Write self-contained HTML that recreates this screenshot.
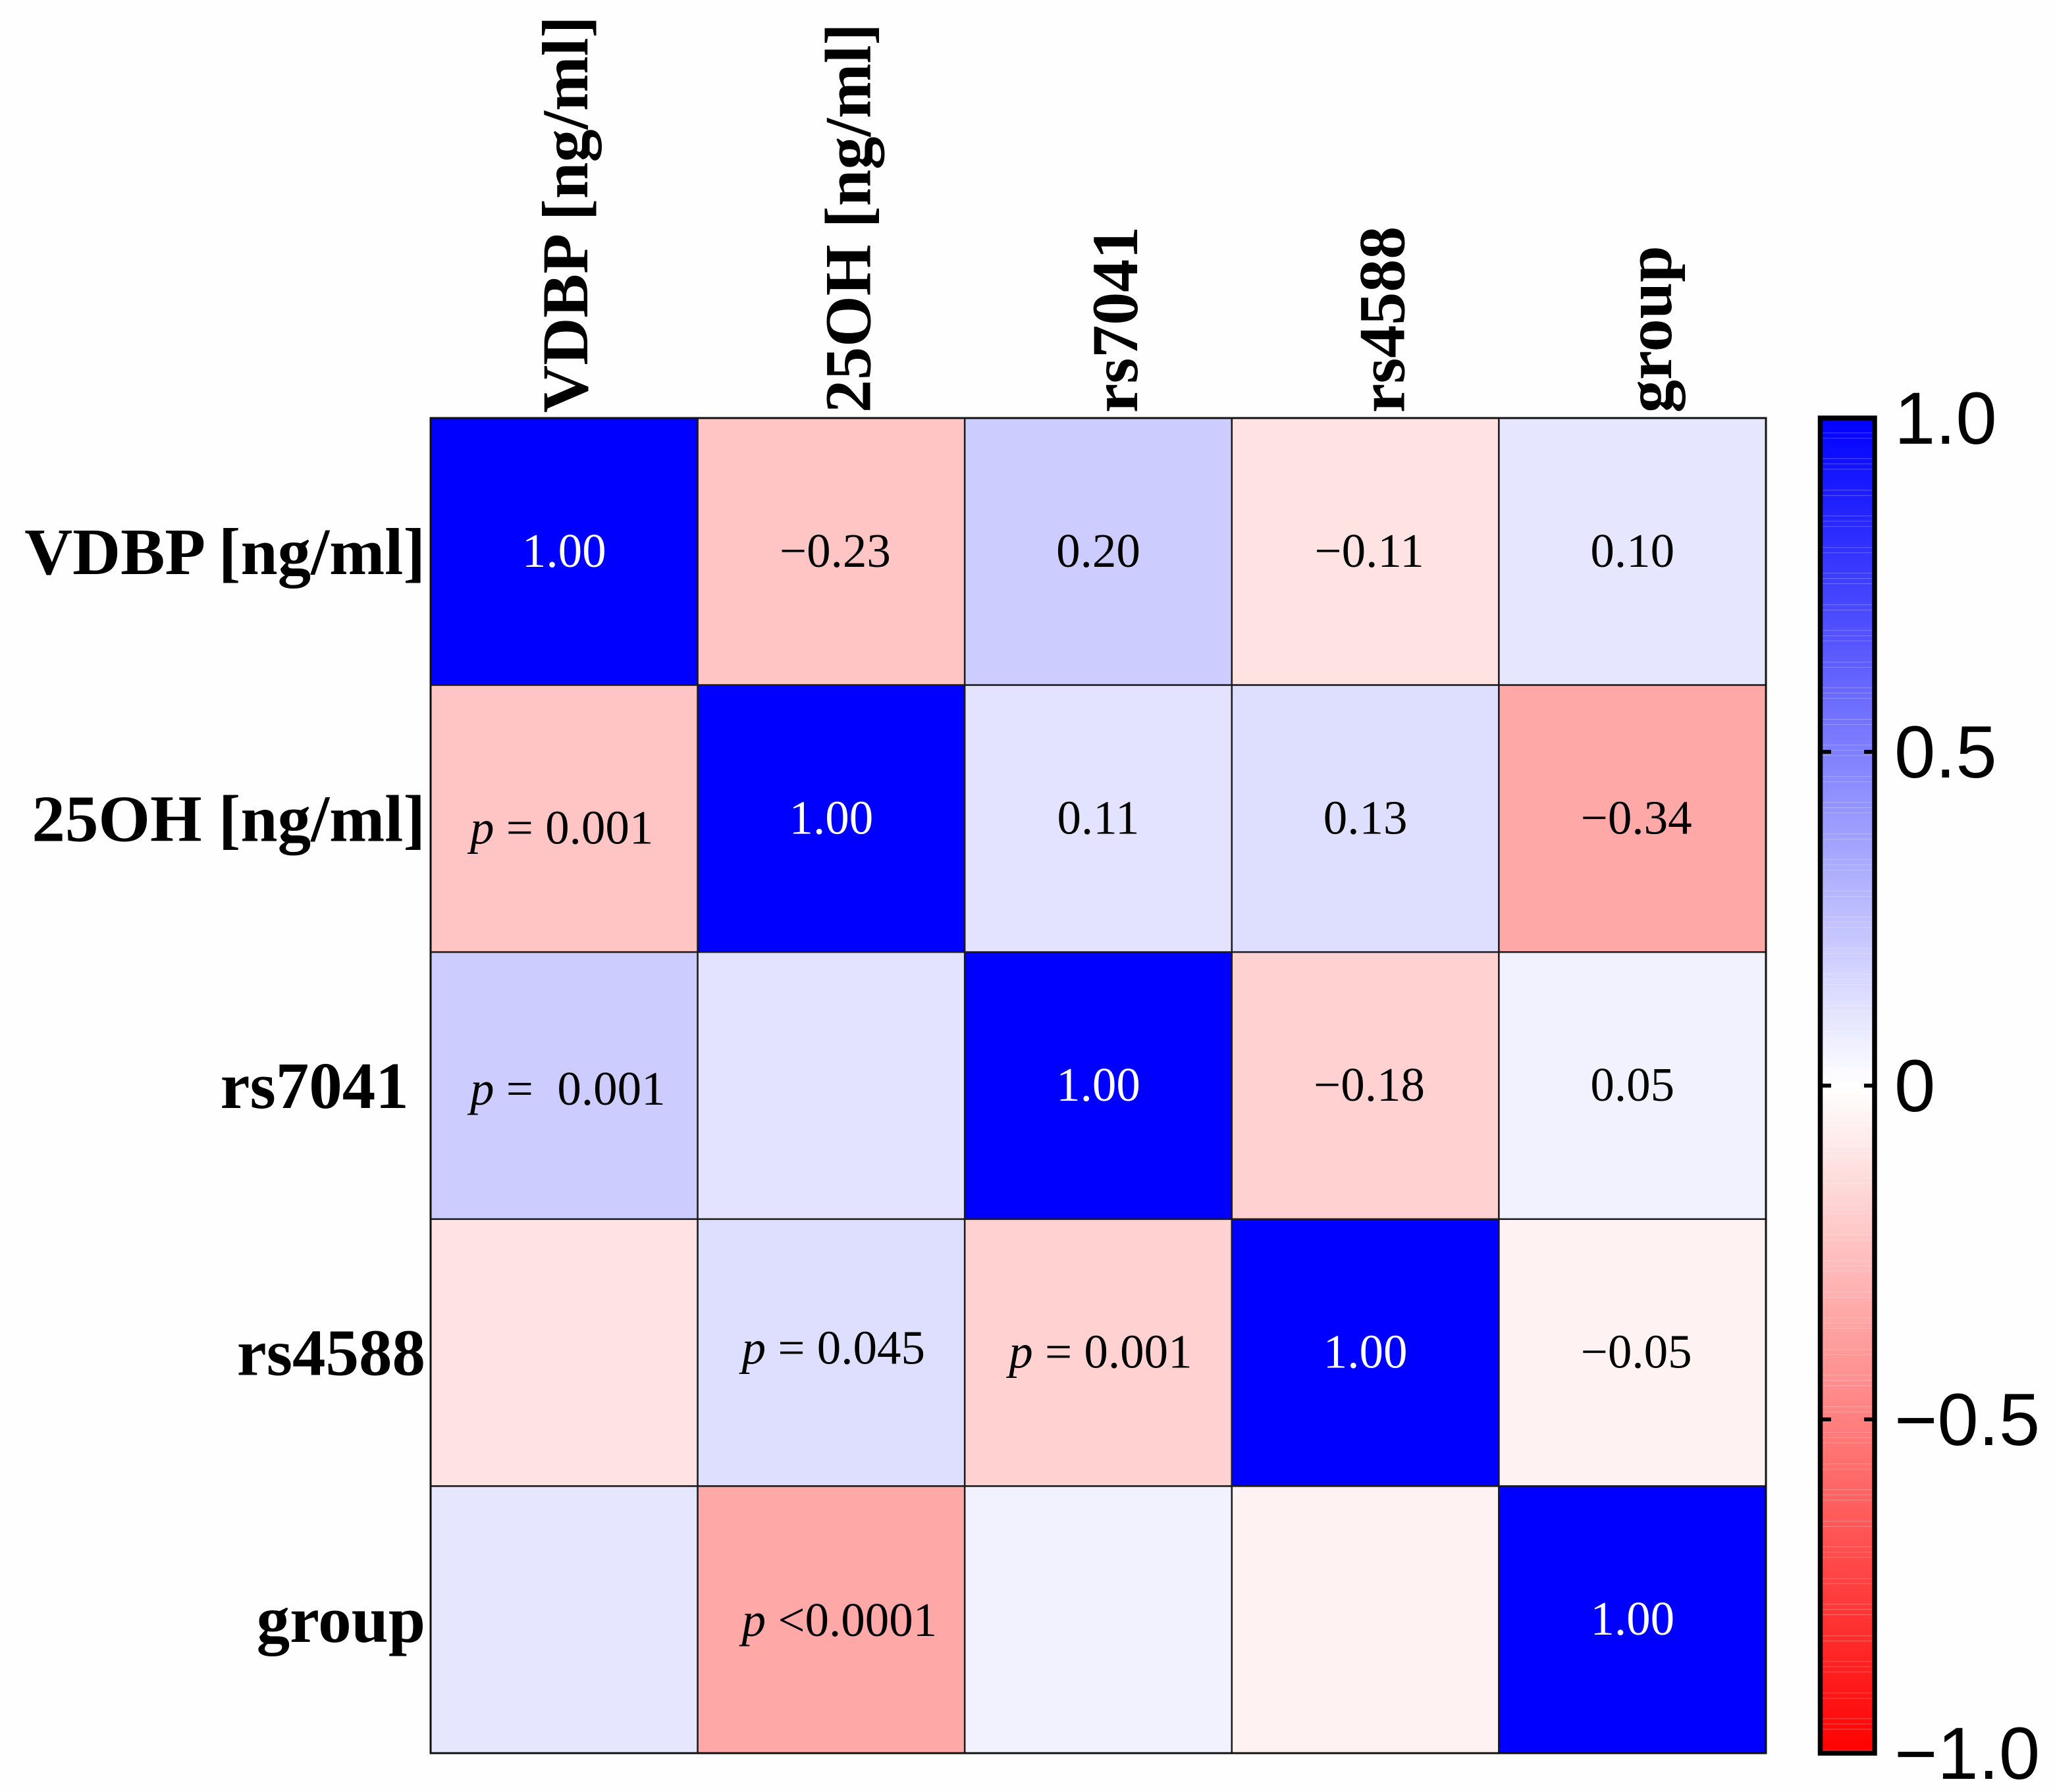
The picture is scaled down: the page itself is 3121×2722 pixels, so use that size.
<!DOCTYPE html>
<html lang="en">
<head>
<meta charset="utf-8">
<title>Correlation heatmap</title>
<style>
  html, body { margin: 0; padding: 0; background: #fefefe; }
  svg { display: block; }
  .serif { font-family: "Liberation Serif", "Times New Roman", serif; }
  .sans { font-family: "Liberation Sans", Arial, sans-serif; }
  text { white-space: pre; }
</style>
</head>
<body>
<svg id="chart" xmlns="http://www.w3.org/2000/svg" width="3121" height="2722" viewBox="0 0 3121 2722">
  <defs>
    <linearGradient id="cbar-gradient" x1="0" y1="0" x2="0" y2="1"></linearGradient>
    <pattern id="cbar-streaks" width="76" height="87" patternUnits="userSpaceOnUse">
      <rect x="0" y="0" width="76" height="1.2" fill="#fff" opacity="0.22"></rect>
      <rect x="0" y="8" width="76" height="1.2" fill="#fff" opacity="0.22"></rect>
      <rect x="0" y="16" width="76" height="1.2" fill="#fff" opacity="0.22"></rect>
      <rect x="0" y="48" width="76" height="1.2" fill="#fff" opacity="0.22"></rect>
      <rect x="0" y="56" width="76" height="1.2" fill="#fff" opacity="0.22"></rect>
    </pattern>
  </defs>
  <rect x="0" y="0" width="3121" height="2722" fill="#fefefe"></rect>
  <g id="heatmap-cells"></g>
  <g id="heatmap-annotations"></g>
  <rect x="654" y="635" width="2028" height="2028" fill="none" stroke="#111" stroke-width="3"></rect>
  <g id="row-labels"></g>
  <g id="column-labels"></g>
  <g id="colorbar"></g>
</svg>
<script>
// ---- chart data ----
const rowLabels = ['VDBP [ng/ml]', '25OH [ng/ml]', 'rs7041\u00a0', 'rs4588', 'group'];
const columnLabels = ['VDBP [ng/ml]', '25OH [ng/ml]', 'rs7041', 'rs4588', 'group'];
const rowVdbp = [1.00, -0.23, 0.20, -0.11, 0.10];
const row25oh = [-0.23, 1.00, 0.11, 0.13, -0.34];
const rowRs7041 = [0.20, 0.11, 1.00, -0.18, 0.05];
const rowRs4588 = [-0.11, 0.13, -0.18, 1.00, -0.05];
const rowGroup = [0.10, -0.34, 0.05, -0.05, 1.00];
const correlationRows = [rowVdbp, row25oh, rowRs7041, rowRs4588, rowGroup];
const pValueLabels = [
  { row: 1, col: 0, text: ' = 0.001' },
  { row: 2, col: 0, text: ' =  0.001' },
  { row: 3, col: 1, text: ' = 0.045' },
  { row: 3, col: 2, text: ' = 0.001' },
  { row: 4, col: 1, text: ' <0.0001' }
];
const colorbarTicks = [1, 0.5, 0, -0.5, -1];
const colorbarTickLabels = ['1.0', '0.5', '0', '\u22120.5', '\u22121.0'];

// ---- layout and scales ----
const SVG_NS = 'http://www.w3.org/2000/svg';
const plotLeft = 654, plotTop = 635, plotSize = 2028;
const cellSize = plotSize / rowLabels.length;
const cbarTop = 635, cbarBottom = 2663;
const xBand = function (col) { return plotLeft + col * cellSize; };
const yBand = function (row) { return plotTop + row * cellSize; };
const cbarY = function (v) { return cbarTop + (1 - v) / 2 * (cbarBottom - cbarTop); };
const colorOf = function (v) {
  const c = Math.round(255 * (1 - Math.min(1, Math.abs(v))));
  return v >= 0 ? 'rgb(' + c + ',' + c + ',255)' : 'rgb(255,' + c + ',' + c + ')';
};
const formatValue = function (v) {
  return (v < 0 ? '\u2212' : '') + Math.abs(v).toFixed(2);
};
const make = function (tag, attrs, parent) {
  const el = document.createElementNS(SVG_NS, tag);
  Object.keys(attrs).forEach(function (k) { el.setAttribute(k, attrs[k]); });
  parent.appendChild(el);
  return el;
};

const cellsGroup = document.getElementById('heatmap-cells');
const annotationsGroup = document.getElementById('heatmap-annotations');
const rowLabelGroup = document.getElementById('row-labels');
const columnLabelGroup = document.getElementById('column-labels');
const colorbarGroup = document.getElementById('colorbar');

// ---- heatmap cells and r values (upper triangle + diagonal) ----
correlationRows.forEach(function (values, r) {
  values.forEach(function (v, c) {
    const cell = make('rect', {
      x: xBand(c), y: yBand(r), width: cellSize, height: cellSize,
      fill: colorOf(v), stroke: '#1c1c1c', 'stroke-width': 2.5
    }, cellsGroup);
    
    
    if (c >= r) {
      const t = make('text', {
        x: xBand(c) + cellSize / 2 + (v < 0 ? 6 : 0),
        y: yBand(r) + cellSize / 2 + 23,
        'text-anchor': 'middle',
        'font-size': 73,
        fill: r === c ? '#ffffff' : '#000000',
        class: 'serif'
      }, annotationsGroup);
      t.textContent = formatValue(v);
      
      
    }
  });
});

// ---- p-value annotations (lower triangle) ----
const pBaselineNudge = { '1-0': 13, '2-0': 4, '3-1': -8, '3-2': -2, '4-1': 0 };
pValueLabels.forEach(function (d) {
  const t = make('text', {
    x: xBand(d.col) + (d.col === 0 ? 60 : 67),
    y: yBand(d.row) + cellSize / 2 + 25 + pBaselineNudge[d.row + '-' + d.col],
    'font-size': 73,
    fill: '#000000',
    class: 'serif'
  }, annotationsGroup);
  
  
  const italic = make('tspan', { 'font-style': 'italic' }, t);
  italic.textContent = 'p';
  const rest = make('tspan', {}, t);
  rest.textContent = d.text;
});

// ---- axis labels ----
rowLabels.forEach(function (label, r) {
  const t = make('text', {
    x: 646,
    y: yBand(r) + cellSize / 2 + 34,
    'text-anchor': 'end',
    'font-size': 101,
    'font-weight': 700,
    fill: '#000000',
    class: 'serif'
  }, rowLabelGroup);
  t.textContent = label;
  
  
});
columnLabels.forEach(function (label, c) {
  const bx = xBand(c) + cellSize / 2 + (c === 0 ? 35 : 59);
  const t = make('text', {
    transform: 'translate(' + bx + ',627) rotate(-90)',
    x: 0, y: 0,
    'text-anchor': 'start',
    'font-size': 100,
    'font-weight': 700,
    fill: '#000000',
    class: 'serif'
  }, columnLabelGroup);
  t.textContent = label;
  
  
});

// ---- colorbar ----
const gradient = document.getElementById('cbar-gradient');
[1, 0, -1].forEach(function (v) {
  make('stop', { offset: (1 - v) / 2, 'stop-color': colorOf(v) }, gradient);
});
const cbarLeft = 2764.5, cbarRight = 2847;
const ramp = make('rect', {
  x: cbarLeft, y: cbarY(1), width: cbarRight - cbarLeft, height: cbarY(-1) - cbarY(1),
  fill: 'url(#cbar-gradient)'
}, colorbarGroup);


const streaks = make('rect', {
  x: cbarLeft, y: cbarY(1), width: cbarRight - cbarLeft, height: cbarY(-1) - cbarY(1),
  fill: 'url(#cbar-streaks)'
}, colorbarGroup);


const cbarFrame = make('rect', {
  x: cbarLeft, y: cbarY(1), width: cbarRight - cbarLeft, height: cbarY(-1) - cbarY(1),
  fill: 'none', stroke: '#000000', 'stroke-width': 7.5
}, colorbarGroup);


colorbarTicks.forEach(function (v, i) {
  const y = cbarY(v);
  const left = make('line', { x1: 2761, x2: 2781, y1: y, y2: y, stroke: '#000000', 'stroke-width': 6 }, colorbarGroup);
  
  
  const right = make('line', { x1: 2831, x2: 2850, y1: y, y2: y, stroke: '#000000', 'stroke-width': 6 }, colorbarGroup);
  
  
  const t = make('text', {
    x: 2877,
    y: y + 39,
    'font-size': 112,
    fill: '#000000',
    class: 'sans'
  }, colorbarGroup);
  t.textContent = colorbarTickLabels[i];
  
  
});
</script>
</body>
</html>
